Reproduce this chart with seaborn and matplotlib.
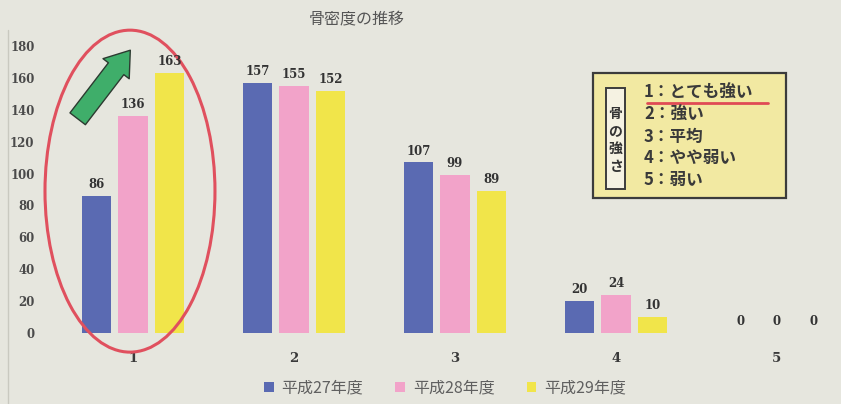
import matplotlib
matplotlib.use("Agg")
import matplotlib.pyplot as plt
import seaborn as sns
import pandas as pd
from matplotlib.patches import Ellipse, FancyArrowPatch, Rectangle
from matplotlib.lines import Line2D

# Bone strength ratings (1 = very strong ... 5 = weak) and counts per fiscal year
categories = ["1", "2", "3", "4", "5"]
years = ["平成27年度", "平成28年度", "平成29年度"]
h27 = [86, 157, 107, 20, 0]
h28 = [136, 155, 99, 24, 0]
h29 = [163, 152, 89, 10, 0]
yticks = [0, 20, 40, 60, 80, 100, 120, 140, 160, 180]
legend_items = ["1：とても強い", "2：強い", "3：平均", "4：やや弱い", "5：弱い"]

df = pd.DataFrame({
    "category": categories * 3,
    "year": [years[0]] * 5 + [years[1]] * 5 + [years[2]] * 5,
    "value": h27 + h28 + h29,
})

paper = "#e6e6de"
palette = ["#5a6ab2", "#f2a3c9", "#f1e54a"]
jp = ["Noto Sans CJK JP", "DejaVu Sans"]
serif = "DejaVu Serif"

sns.set_theme(style="white")
plt.rcParams["font.family"] = jp

W, H = 841, 404
fig = plt.figure(figsize=(W / 100, H / 100), dpi=100, facecolor=paper)
ax = fig.add_axes([40 / W, (H - 333) / H, (W - 40) / W, 303 / H])
ax.set_facecolor(paper)

sns.barplot(data=df, x="category", y="value", hue="year", palette=palette,
            width=0.68, gap=0.2, saturation=1, linewidth=0, ax=ax, legend=True)

ax.set_xlim(-0.578, 4.398)
ax.set_ylim(0, 190.1)
ax.set_yticks(yticks)
ax.set_yticklabels([str(v) for v in yticks], fontfamily=serif,
                   fontsize=8.5, color="#4a4a4a", fontweight="bold")
ax.set_xticks(range(len(categories)))
ax.set_xticklabels(categories, fontfamily=serif, fontsize=9.5,
                   color="#3a3a3a", fontweight="bold")
ax.tick_params(axis="y", length=0, pad=4)
ax.tick_params(axis="x", length=0, pad=14)
ax.set_xlabel("")
ax.set_ylabel("")
for s in ax.spines.values():
    s.set_visible(False)

for cont in ax.containers:
    ax.bar_label(cont, fmt="%d", padding=3.5, fontfamily=serif,
                 fontsize=8.5, fontweight="bold", color="#333333")

# Legend below the chart
handles, labels = ax.get_legend_handles_labels()
ax.get_legend().remove()
fig.legend(handles, labels, loc="center", ncol=3, frameon=False,
           bbox_to_anchor=(445 / W, 1 - 388 / H), bbox_transform=fig.transFigure,
           handlelength=0.6, handleheight=0.6, handletextpad=0.5,
           columnspacing=2.0, prop={"family": jp, "size": 11.5},
           labelcolor="#606060")

# Title
fig.text(357 / W, 1 - 19 / H, "骨密度の推移", ha="center", va="center",
         fontsize=11.5, color="#555555", family=jp)

# Faint left rule
fig.add_artist(Line2D([8 / W, 8 / W], [0, 1 - 30 / H], color="#c9c9c0", lw=1))

# Red ellipse around group 1
ell = Ellipse((-0.019, 89), width=1.056, height=202, fill=False,
              edgecolor="#e0505e", lw=2.2, clip_on=False)
ax.add_patch(ell)

# Green upward arrow
arrow = FancyArrowPatch((76, H - 121), (132, H - 48),
                        transform=None,
                        arrowstyle="simple,head_width=1.7,head_length=1.2,tail_width=1.0",
                        mutation_scale=14, facecolor="#3fae6a",
                        edgecolor="#2c3a30", lw=1.0)
fig.add_artist(arrow)

# Rating key box
box = Rectangle((593, H - 198), 193, 125, transform=None,
                facecolor="#f2e9a2", edgecolor="#3c3c3c", lw=1.6)
fig.add_artist(box)
inner = Rectangle((606, H - 189), 19, 101, transform=None,
                  facecolor="#f5f2e2", edgecolor="#3c3c3c", lw=1.4)
fig.add_artist(inner)
for i, ch in enumerate("骨の強さ"):
    fig.text(615.5 / W, 1 - (114 + i * 17.5) / H, ch, ha="center", va="center",
             fontsize=10, fontweight="bold", color="#333333", family=jp)
for i, item in enumerate(legend_items):
    fig.text(644 / W, 1 - (98 + i * 21.8) / H, item, ha="left", va="baseline",
             fontsize=12, fontweight="bold", color="#3a3a3a", family=jp)
fig.add_artist(Line2D([647 / W, 768 / W], [1 - 103 / H, 1 - 103 / H],
                      color="#e04a55", lw=2))

fig.savefig("out.png", dpi=100, facecolor=paper)
